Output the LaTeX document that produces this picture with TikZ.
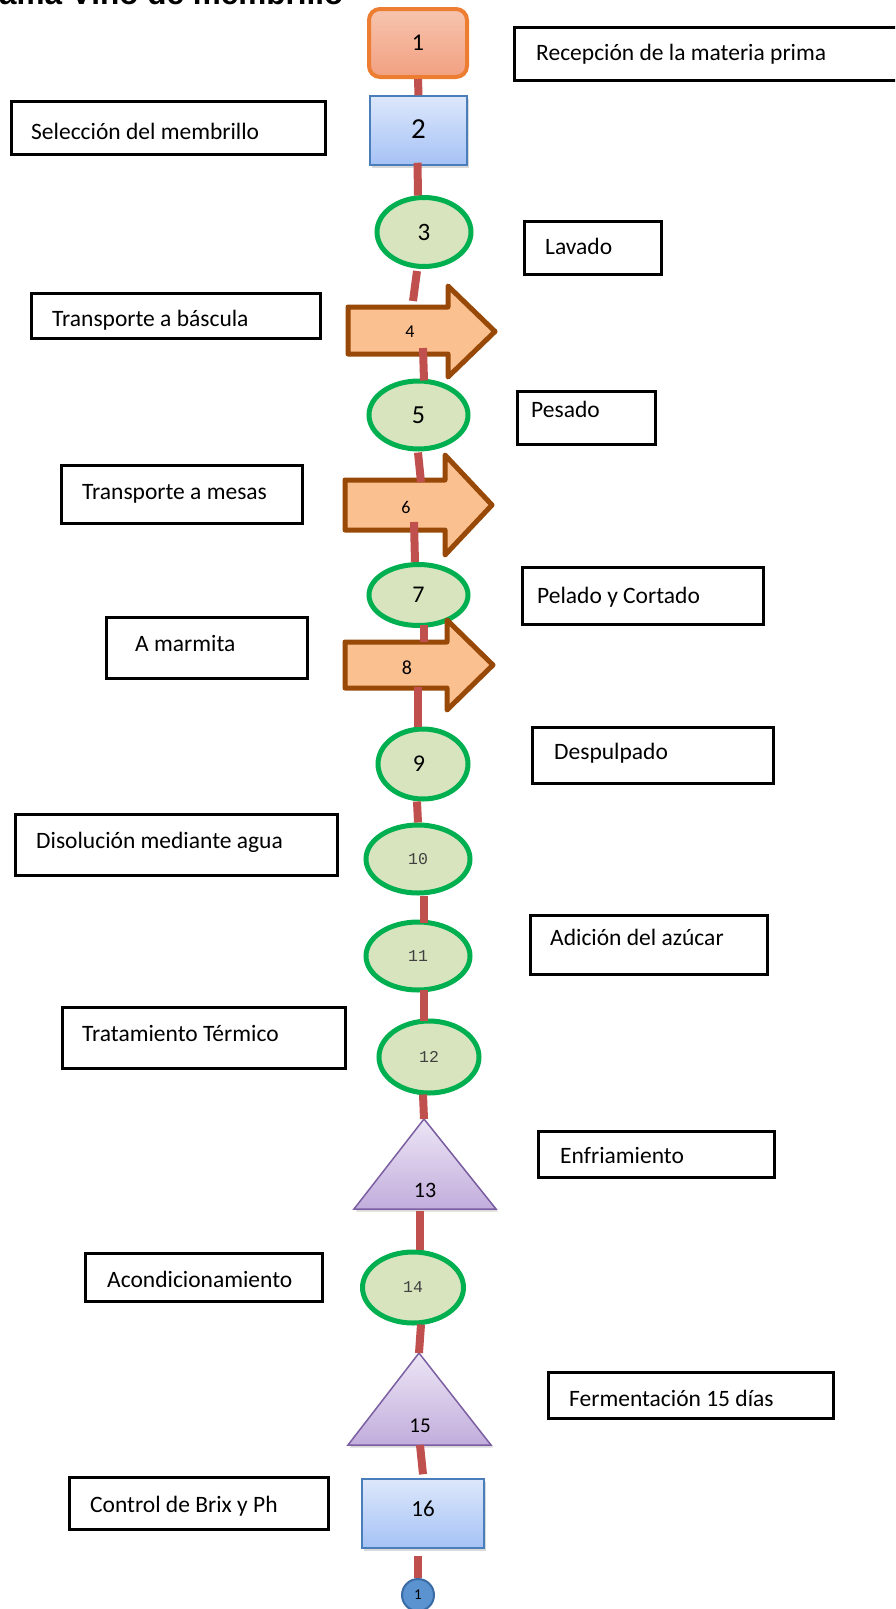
\documentclass[tikz,border=0pt]{standalone}
\usepackage{fontspec}
\setmainfont{Carlito}
\newfontfamily\monof{Liberation Mono}
\newfontfamily\headf{Liberation Sans}
\usetikzlibrary{shapes.geometric,shadows,calc}

\newcommand\setsz[1]{\fontsize{#1}{#1}\selectfont}

\definecolor{linkred}{HTML}{C0504D}
\definecolor{ovalfill}{HTML}{D7E4BD}
\definecolor{ovaledge}{HTML}{00B050}
\definecolor{arrfill}{HTML}{FAC090}
\definecolor{arredge}{HTML}{984807}
\definecolor{startedge}{HTML}{ED7D31}
\definecolor{starttop}{HTML}{F7C4AE}
\definecolor{startbot}{HTML}{F2A081}
\definecolor{bluetop}{HTML}{DDE7FB}
\definecolor{bluebot}{HTML}{A5C2F5}
\definecolor{blueedge}{HTML}{4A7EBB}
\definecolor{lilactop}{HTML}{ECE5F5}
\definecolor{lilacbot}{HTML}{C2ADDC}
\definecolor{lilacedge}{HTML}{7B5FA2}
\definecolor{dotfill}{HTML}{5A93D0}
\definecolor{dotedge}{HTML}{3A6BA5}
\definecolor{monogray}{HTML}{404040}

\tikzset{
  tbox/.style={draw=black, line width=2.5pt, fill=white, rectangle, inner sep=0pt, anchor=north west},
  ttext/.style={inner sep=0pt, anchor=base west, font=\setsz{23.5}},
  startbox/.style={rectangle, rounded corners=11pt, draw=startedge, line width=4pt,
    top color=starttop, bottom color=startbot, inner sep=0pt},
  bluebox/.style={rectangle, draw=blueedge, line width=1.5pt, top color=bluetop, bottom color=bluebot,
    inner sep=0pt, drop shadow={opacity=0.3, shadow xshift=2pt, shadow yshift=-2.5pt}},
  oval/.style={ellipse, draw=ovaledge, line width=5pt, fill=ovalfill, inner sep=0pt},
  movearrow/.style={draw=arredge, line width=5pt, fill=arrfill, line join=round},
  tri/.style={draw=lilacedge, line width=1.5pt, top color=lilactop, bottom color=lilacbot, line join=miter,
    drop shadow={opacity=0.3, shadow xshift=2pt, shadow yshift=-2.5pt}},
  num/.style={inner sep=0pt},
  link/.style={draw=linkred, line width=8pt, line cap=butt},
  dot/.style={circle, draw=dotedge, line width=2pt, fill=dotfill, minimum size=32pt, inner sep=0pt},
}

\begin{document}
\begin{tikzpicture}[x=1pt, y=-1pt]
\useasboundingbox (0,0) rectangle (895,1609);
\clip (0,0) rectangle (895,1609);

% heading
\node[inner sep=0pt, anchor=base west, font=\headf\bfseries\setsz{31.5}] (title) at (-1,4) {ama Vino de membrillo};

% description boxes
\node[tbox, minimum width=392pt, minimum height=53pt] (b1) at (513,26) {};
\node[ttext] (b1t) at ($(b1.north west)+(23,34)$) {Recepción de la materia prima};
\node[tbox, minimum width=314pt, minimum height=53pt] (b2) at (10,100) {};
\node[ttext] (b2t) at ($(b2.north west)+(21,39)$) {Selección del membrillo};
\node[tbox, minimum width=137pt, minimum height=53pt] (b3) at (523,220) {};
\node[ttext] (b3t) at ($(b3.north west)+(22,34)$) {Lavado};
\node[tbox, minimum width=289pt, minimum height=45pt] (b4) at (30,292) {};
\node[ttext] (b4t) at ($(b4.north west)+(22,34)$) {Transporte a báscula};
\node[tbox, minimum width=138pt, minimum height=53pt] (b5) at (516,390) {};
\node[ttext] (b5t) at ($(b5.north west)+(15,27)$) {Pesado};
\node[tbox, minimum width=241pt, minimum height=58pt] (b6) at (60,464) {};
\node[ttext] (b6t) at ($(b6.north west)+(22,35)$) {Transporte a mesas};
\node[tbox, minimum width=241pt, minimum height=57pt] (b7) at (521,566) {};
\node[ttext] (b7t) at ($(b7.north west)+(16,37)$) {Pelado y Cortado};
\node[tbox, minimum width=201pt, minimum height=61pt] (b8) at (105,616) {};
\node[ttext] (b8t) at ($(b8.north west)+(30,35)$) {A marmita};
\node[tbox, minimum width=241pt, minimum height=56pt] (b9) at (531,726) {};
\node[ttext] (b9t) at ($(b9.north west)+(23,33)$) {Despulpado};
\node[tbox, minimum width=322pt, minimum height=61pt] (b10) at (14,813) {};
\node[ttext] (b10t) at ($(b10.north west)+(22,35)$) {Disolución mediante agua};
\node[tbox, minimum width=237pt, minimum height=59pt] (b11) at (529,914) {};
\node[ttext] (b11t) at ($(b11.north west)+(21,31)$) {Adición del azúcar};
\node[tbox, minimum width=283pt, minimum height=61pt] (b12) at (61,1006) {};
\node[ttext] (b12t) at ($(b12.north west)+(21,35)$) {Tratamiento Térmico};
\node[tbox, minimum width=236pt, minimum height=46pt] (b13) at (537,1130) {};
\node[ttext] (b13t) at ($(b13.north west)+(23,33)$) {Enfriamiento};
\node[tbox, minimum width=237pt, minimum height=48pt] (b14) at (84,1252) {};
\node[ttext] (b14t) at ($(b14.north west)+(23,35)$) {Acondicionamiento};
\node[tbox, minimum width=285pt, minimum height=46pt] (b15) at (547,1371) {};
\node[ttext] (b15t) at ($(b15.north west)+(22,35)$) {Fermentación 15 días};
\node[tbox, minimum width=259pt, minimum height=52pt] (b16) at (68,1476) {};
\node[ttext] (b16t) at ($(b16.north west)+(22,36)$) {Control de Brix y Ph};

% process symbols
\node[startbox, minimum width=98pt, minimum height=68pt] (s1) at (418,43) {\setsz{24}1};
\node[bluebox, minimum width=97pt, minimum height=69pt] (s2) at (418.5,130.5) {\setsz{29}\raisebox{2pt}{2}};
\node[oval, minimum width=94pt, minimum height=69pt] (s3) at (424,232) {\setsz{25}3};

\path[movearrow] (348,307) -- (448,307) -- (448,286) -- (495,331.5) -- (448,377) -- (448,354) -- (348,354) -- cycle;
\node[num, font=\setsz{18}] (s4) at (410,332) {4};

\node[oval, minimum width=99pt, minimum height=68pt] (s5) at (418.5,415) {\setsz{26}\raisebox{-3pt}{5}};

\path[movearrow] (345,480) -- (445,480) -- (445,455) -- (492,505) -- (445,555) -- (445,530) -- (345,530) -- cycle;
\node[num, font=\setsz{18}] (s6) at (406,507) {6};

\node[oval, minimum width=99pt, minimum height=61pt] (s7) at (418.5,595) {\setsz{24}\raisebox{-2pt}{7}};

\path[movearrow] (345,642) -- (447,642) -- (447,620) -- (493,665) -- (447,710) -- (447,688) -- (345,688) -- cycle;
\node[num, font=\setsz{20}] (s8) at (407,668) {8};

\node[oval, minimum width=90pt, minimum height=70pt] (s9) at (423,764) {\setsz{24}\hspace*{-8pt}9};
\node[oval, minimum width=104pt, minimum height=68pt] (s10) at (418,859) {\monof\setsz{16.5}\color{monogray}10};
\node[oval, minimum width=104pt, minimum height=68pt] (s11) at (418,956) {\monof\setsz{16.5}\color{monogray}11};
\node[oval, minimum width=100pt, minimum height=72pt] (s12) at (429,1057) {\monof\setsz{16.5}\color{monogray}12};

\path[tri] (424,1119) -- (496,1209) -- (354,1209) -- cycle;
\node[num, font=\setsz{22}] (s13) at (425,1190) {13};

\node[oval, minimum width=101pt, minimum height=71pt] (s14) at (413,1287.5) {\monof\setsz{16.5}\color{monogray}14};

\path[tri] (419,1353) -- (491,1445) -- (348,1445) -- cycle;
\node[num, font=\setsz{21}] (s15) at (420,1426) {15};

\node[bluebox, minimum width=122pt, minimum height=69pt] (s16) at (423,1513.5) {\setsz{23}\raisebox{9pt}{16}};

\node[dot] (c1) at (418,1595) {\setsz{15}\raisebox{-4pt}{1}};

% connecting segments
\draw[link] (s1.south) -- (s2.north);
\draw[link] ($(s2.south)+(-1,-3)$) -- ($(s3.north)+(-6,0.5)$);
\draw[link] ($(s3.south)+(-7,2)$) -- ($(s4)+(3,-31)$);
\draw[link] ($(s4)+(13,16)$) -- ($(s5.north)+(5.5,2)$);
\draw[link] ($(s5.south)+(-0.5,1)$) -- ($(s6)+(15,-25)$);
\draw[link] ($(s6)+(8,15)$) -- ($(s7.north)+(-3.5,0)$);
\draw[link] ($(s7.south)+(5.5,-3.5)$) -- ($(s8)+(17,-26)$);
\draw[link] ($(s8)+(11,19)$) -- ($(s9.north)+(-5,0)$);
\draw[link] ($(s9.south)+(-6,0)$) -- (s10.north);
\draw[link] ($(s10.south)+(6,0)$) -- ($(s11.north)+(6,3)$);
\draw[link] ($(s11.south)+(6,-3)$) -- ($(s12.north)+(-5,2)$);
\draw[link] ($(s12.south)+(-6,-1)$) -- ($(s13)+(-1,-71)$);
\draw[link] ($(s13)+(-5,21)$) -- ($(s14.north)+(7,0)$);
\draw[link] ($(s14.south)+(8,-1)$) -- ($(s15)+(-1,-73)$);
\draw[link] ($(s15)+(0,19)$) -- ($(s16.north)+(0,-4)$);
\draw[link] ($(s16.south)+(-5,7)$) -- (c1.north);
\end{tikzpicture}
\end{document}
